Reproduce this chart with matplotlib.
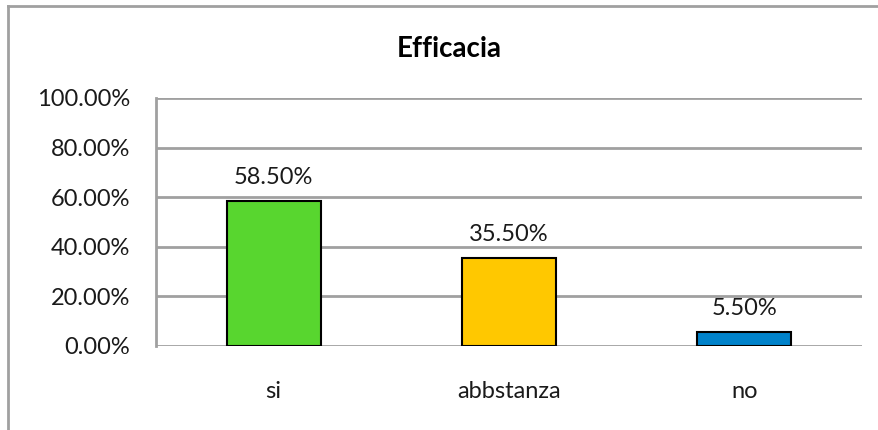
import matplotlib
matplotlib.use("Agg")
import matplotlib.pyplot as plt
from matplotlib.lines import Line2D

categories = ["si", "abbstanza", "no"]
values = [58.5, 35.5, 5.5]
colors = ["#58D62F", "#FFC800", "#0082CA"]
yticks = [0, 20, 40, 60, 80, 100]
title = "Efficacia"

plt.rcParams['font.family'] = ['Lato', 'DejaVu Sans']

fig = plt.figure(figsize=(8.79, 4.30), dpi=100)
ax = fig.add_axes([156/879, 1-346/430, (862-156)/879, (346-98)/430])

x = list(range(len(categories)))
bars = ax.bar(x, values, width=0.4, color=colors, edgecolor="black", linewidth=1.5, zorder=3)
for xi, v in zip(x, values):
    ax.annotate(f"{v:.2f}%", (xi, v), xytext=(0, 9.5), textcoords="offset points",
                ha="center", va="bottom", fontsize=17, color="#1a1a1a")

ax.set_xlim(-0.5, len(categories) - 0.5)
ax.set_ylim(0, 100)
ax.set_yticks(yticks)
ax.set_yticklabels([f"{t:.2f}%" for t in yticks], fontsize=17, color="#1a1a1a")
ax.set_xticks(x)
ax.set_xticklabels(categories, fontsize=17, color="#1a1a1a")
ax.tick_params(axis="both", length=0)
ax.tick_params(axis="y", pad=18.5)
ax.tick_params(axis="x", pad=25.5)
ax.yaxis.grid(True, color="#A0A0A0", linewidth=2, zorder=0)
ax.set_axisbelow(True)
for s in ["top", "right", "bottom"]:
    ax.spines[s].set_visible(False)
ax.spines["left"].set_color("#A0A0A0")
ax.spines["left"].set_linewidth(2)

fig.text(449/879, 1-49/430, title, ha="center", va="center", fontsize=20, fontweight="bold")

# outer chart border (left and top visible)
fig.add_artist(Line2D([8/879, 8/879], [0, 1-6/430], transform=fig.transFigure, color="#A0A0A0", linewidth=2))
fig.add_artist(Line2D([8/879, 1], [1-6/430, 1-6/430], transform=fig.transFigure, color="#A0A0A0", linewidth=2))

fig.savefig("out.png", dpi=100)
